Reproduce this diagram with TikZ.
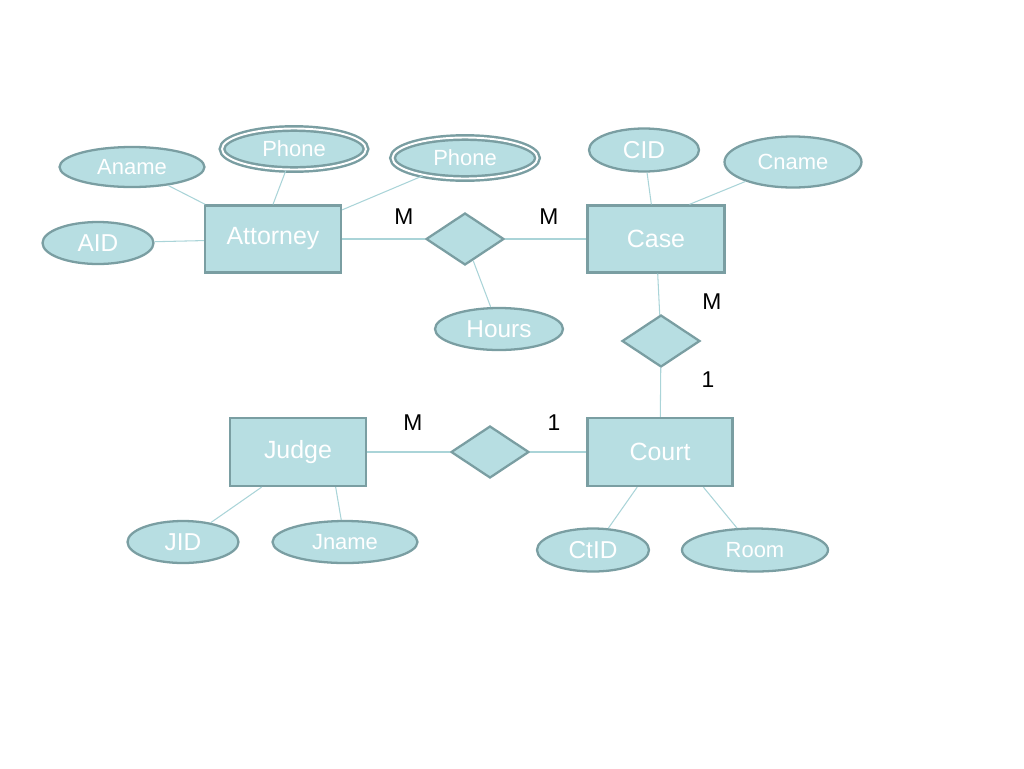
\documentclass[tikz,border=0pt]{standalone}
\usepackage{fontspec}
\setmainfont{Liberation Sans}
\usetikzlibrary{shapes.geometric}
\definecolor{erfill}{RGB}{183,222,226}
\definecolor{erborder}{RGB}{122,158,162}
\definecolor{erline}{RGB}{170,212,216}

\begin{document}
\begin{tikzpicture}[x=0.02cm, y=-0.02cm,
   entity/.style={draw=erborder, fill=erfill, line width=1.3pt, text=white,
      minimum width=2.72cm, minimum height=1.34cm, font=\fontsize{14.2}{16}\selectfont},
   attr/.style={ellipse, draw=erborder, fill=erfill, line width=1.3pt, text=white,
      inner sep=0pt, font=\fontsize{13.9}{16}\selectfont},
   smallattr/.style={attr, font=\fontsize{12.5}{14}\selectfont},
   multiattr/.style={smallattr, line width=1.4pt, double=white, double distance=1.1pt},
   relation/.style={diamond, draw=erborder, fill=erfill, line width=1.3pt,
      inner sep=0pt, minimum width=1.56cm, minimum height=1.04cm},
   link/.style={draw=erline, line width=0.6pt},
   card/.style={font=\fontsize{13}{15}\selectfont}]
   \useasboundingbox (0, 0) rectangle (1024, 768);
   % Entities
   \node [entity] (attorney) at (273, 239) {Attorney};
   \node [entity, minimum width=2.74cm] (case) at (656, 239) {Case};
   \node [entity, minimum height=1.36cm] (judge) at (298, 452) {Judge};
   \node [entity, minimum width=2.9cm, minimum height=1.36cm] (court) at (660, 452) {Court};
   % Relationships
   \node [relation] (works) at (465, 239) {};
   \node [relation] (heard) at (661, 341) {};
   \node [relation] (sits) at (490, 452) {};
   % Attributes
   \foreach \name/\x/\y/\w/\h/\txt in {aid/98/243/2.22/0.84/AID, cid/644/150/2.2/0.86/CID,
         hours/499/329/2.56/0.84/Hours, jid/183/542/2.22/0.84/JID, ctid/593/550/2.24/0.86/CtID}
      \node [attr, minimum width=\w cm, minimum height=\h cm] (\name) at (\x, \y) {\txt};
   \foreach \name/\x/\y/\w/\h/\txt in {aname/132/167/2.9/0.8/Aname, cname/793/162/2.74/1.02/Cname,
         jname/345/542/2.9/0.84/Jname, room/755/550/2.92/0.86/Room}
      \node [smallattr, minimum width=\w cm, minimum height=\h cm] (\name) at (\x, \y) {\txt};
   \node [multiattr, minimum width=2.88cm, minimum height=0.82cm] (phoneA) at (294, 149) {Phone};
   \node [multiattr, minimum width=2.9cm, minimum height=0.82cm] (phoneB) at (465, 158) {Phone};
   % Connectors
   \foreach \a/\b in {aname/attorney, aid/attorney, phoneA/attorney.north, phoneB/attorney,
         attorney/works, works/case, works/hours, cid/case, cname/case.46,
         case/heard, heard/court, judge/sits, sits/court,
         judge.-136/jid, judge.-43/jname, court.-123/ctid, court.-39/room}
      \draw [link] (\a) -- (\b);
   % Cardinalities
   \foreach \name/\x/\y/\txt in {cardA/404/217/M, cardB/549/217/M, cardC/712/302/M,
         cardD/708/380/1, cardE/413/423/M, cardF/554/423/1}
      \node [card] (\name) at (\x, \y) {\txt};
\end{tikzpicture}
\end{document}
